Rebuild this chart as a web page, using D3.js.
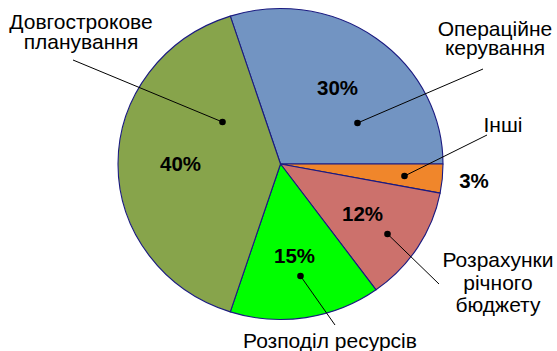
<!DOCTYPE html>
<html>
<head>
<meta charset="utf-8">
<script src="https://cdn.jsdelivr.net/npm/d3@7"></script>
<style>
  html, body { margin: 0; padding: 0; background: #fff; }
  svg { display: block; }
  text { font-family: "Liberation Sans", Arial, sans-serif; }
</style>
</head>
<body>
<svg id="chart" width="557" height="351"></svg>
<script>
// Share of time by management activity
const categories = [
  "Операційне керування",
  "Інші",
  "Розрахунки річного бюджету",
  "Розподіл ресурсів",
  "Довгострокове планування"
];
const shares = [30, 3, 12, 15, 40];
const colors = ["#7294C2", "#F0862B", "#CC716C", "#00FF00", "#87A44B"];

// Category labels split into lines as typeset
const labelLines = [
  ["Операційне", "керування"],
  ["Інші"],
  ["Розрахунки", "річного", "бюджету"],
  ["Розподіл ресурсів"],
  ["Довгострокове", "планування"]
];

// Layout: ellipse centre and radii
const cx = 280.5, cy = 164, rx = 162.5, ry = 155.5;

// Callout layout (offsets from the centre, in px; text y is the baseline)
const callouts = [
  { pct: [57, -69],   dot: [77, -41],  lineEnd: [202.5, -95],  text: [214.5, -128], lh: 19 },
  { pct: [193.5, 24], dot: [124, 12],  lineEnd: [206.5, -29],  text: [222.5, -32],  lh: 20 },
  { pct: [82, 57],    dot: [107, 70],  lineEnd: [158.5, 120],  text: [217.5, 103],  lh: 22.5 },
  { pct: [14, 99],    dot: [20, 112],  lineEnd: [54.5, 161],   text: [49.5, 184],   lh: 20 },
  { pct: [-100, 7],   dot: [-58, -42], lineEnd: [-207.5, -104], text: [-199.5, -135], lh: 20 }
];

const svg = d3.select("#chart");

const pie = d3.pie()
  .sort(null)
  .value(d => d)
  .startAngle(-0.1 * Math.PI)
  .endAngle(1.9 * Math.PI);

const arcs = pie(shares);
const arc = d3.arc().innerRadius(0).outerRadius(ry);

const g = svg.append("g")
  .attr("transform", `translate(${cx},${cy}) scale(${rx / ry},1)`);

g.selectAll("path.slice")
  .data(arcs)
  .join("path")
  .attr("class", "slice")
  .attr("d", arc)
  .attr("fill", (d, i) => colors[i])
  .attr("stroke", "#1a1a80")
  .attr("stroke-width", 1.1)
  .attr("stroke-linejoin", "round")
  .attr("vector-effect", "non-scaling-stroke");

const layer = svg.append("g").attr("transform", `translate(${cx},${cy})`);

// leader lines
layer.selectAll("line.leader")
  .data(callouts)
  .join("line")
  .attr("class", "leader")
  .attr("x1", d => d.dot[0]).attr("y1", d => d.dot[1])
  .attr("x2", d => d.lineEnd[0]).attr("y2", d => d.lineEnd[1])
  .attr("stroke", "#000")
  .attr("stroke-width", 1);

layer.selectAll("circle.dot")
  .data(callouts)
  .join("circle")
  .attr("class", "dot")
  .attr("cx", d => d.dot[0]).attr("cy", d => d.dot[1])
  .attr("r", 3.3)
  .attr("fill", "#000");

// percentage labels
layer.selectAll("text.pct")
  .data(arcs)
  .join("text")
  .attr("class", "pct")
  .attr("x", (d, i) => callouts[i].pct[0])
  .attr("y", (d, i) => callouts[i].pct[1])
  .attr("text-anchor", "middle")
  .attr("font-weight", "bold")
  .attr("font-size", 20.5)
  .attr("fill", "#000")
  .text(d => d.data + "%");

// category labels
const catText = layer.selectAll("text.cat")
  .data(categories)
  .join("text")
  .attr("class", "cat")
  .attr("text-anchor", "middle")
  .attr("font-size", 21)
  .attr("fill", "#000")
  .attr("x", (d, i) => callouts[i].text[0])
  .attr("y", (d, i) => callouts[i].text[1]);

catText.selectAll("tspan")
  .data((d, i) => labelLines[i].map(t => ({ t, i })))
  .join("tspan")
  .attr("x", d => callouts[d.i].text[0])
  .attr("dy", (d, j) => j === 0 ? 0 : callouts[d.i].lh)
  .text(d => d.t);
</script>
</body>
</html>
